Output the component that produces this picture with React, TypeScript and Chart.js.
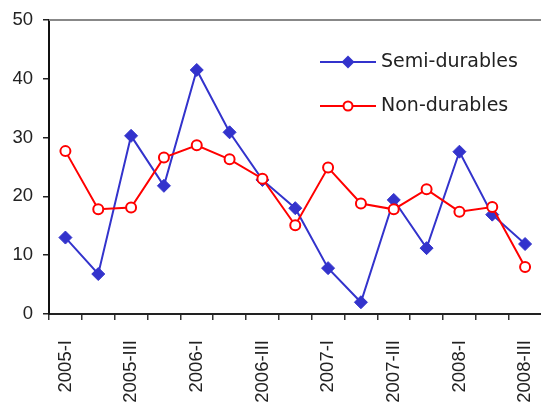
import React, { useEffect, useRef } from "react";
import { Chart, registerables } from "chart.js";

Chart.register(...registerables);

const categories = [
  "2005-I", "2005-II", "2005-III", "2005-IV",
  "2006-I", "2006-II", "2006-III", "2006-IV",
  "2007-I", "2007-II", "2007-III", "2007-IV",
  "2008-I", "2008-II", "2008-III",
];
const semiDurables = [13, 6.8, 30.3, 21.8, 41.5, 30.9, 22.8, 18.0, 7.8, 2.0, 19.4, 11.2, 27.6, 16.9, 11.9];
const nonDurables = [27.7, 17.8, 18.1, 26.6, 28.7, 26.3, 23.0, 15.1, 24.9, 18.8, 17.8, 21.2, 17.4, 18.2, 8.0];
const yTicks = [0, 10, 20, 30, 40, 50];

const BLUE = "#3333CC";
const RED = "#FF0000";
const TEXT = "#222222";

const frameAndLegend = {
  id: "frameAndLegend",
  afterDraw(chart: any) {
    const { ctx, chartArea } = chart;
    ctx.save();
    // top frame line
    ctx.strokeStyle = "#888888";
    ctx.lineWidth = 2;
    ctx.beginPath();
    ctx.moveTo(chartArea.left, chartArea.top);
    ctx.lineTo(chart.width, chartArea.top);
    ctx.stroke();

    // legend
    const items = [
      { ds: chart.data.datasets[0], y: 62, shape: "diamond" },
      { ds: chart.data.datasets[1], y: 106, shape: "circle" },
    ];
    const x0 = 320, x1 = 376, xm = 348, xt = 381;
    for (const it of items) {
      ctx.strokeStyle = it.ds.borderColor;
      ctx.lineWidth = 2;
      ctx.beginPath();
      ctx.moveTo(x0, it.y);
      ctx.lineTo(x1, it.y);
      ctx.stroke();
      if (it.shape === "diamond") {
        ctx.fillStyle = it.ds.borderColor;
        ctx.beginPath();
        ctx.moveTo(xm, it.y - 6.5);
        ctx.lineTo(xm + 6.5, it.y);
        ctx.lineTo(xm, it.y + 6.5);
        ctx.lineTo(xm - 6.5, it.y);
        ctx.closePath();
        ctx.fill();
      } else {
        ctx.fillStyle = "#ffffff";
        ctx.beginPath();
        ctx.arc(xm, it.y, 4.5, 0, Math.PI * 2);
        ctx.fill();
        ctx.stroke();
      }
      ctx.fillStyle = TEXT;
      ctx.font = "19px 'DejaVu Sans'";
      ctx.textBaseline = "middle";
      ctx.textAlign = "left";
      ctx.fillText(it.ds.label, xt, it.y);
    }
    ctx.restore();
  },
};

export default function App() {
  const ref = useRef<HTMLCanvasElement | null>(null);
  useEffect(() => {
    if (!ref.current) return;
    const chart = new Chart(ref.current, {
      type: "line",
      data: {
        labels: categories,
        datasets: [
          {
            label: "Semi-durables",
            data: semiDurables,
            borderColor: BLUE,
            backgroundColor: BLUE,
            borderWidth: 2,
            pointStyle: "rectRot",
            pointRadius: 6.5,
            pointBackgroundColor: BLUE,
            pointBorderColor: BLUE,
            pointBorderWidth: 1,
            order: 1,
          },
          {
            label: "Non-durables",
            data: nonDurables,
            borderColor: RED,
            backgroundColor: RED,
            borderWidth: 2,
            pointStyle: "circle",
            pointRadius: 5,
            pointBackgroundColor: "#ffffff",
            pointBorderColor: RED,
            pointBorderWidth: 2,
            order: 0,
          },
        ],
      },
      plugins: [frameAndLegend],
      options: {
        animation: false,
        responsive: true,
        maintainAspectRatio: false,
        layout: { padding: { top: 20, right: 0, left: 0, bottom: 0 } },
        plugins: { legend: { display: false }, tooltip: { enabled: false } },
        scales: {
          x: {
            type: "category",
            offset: true,
            grid: {
              display: true,
              offset: true,
              drawOnChartArea: false,
              drawTicks: true,
              tickLength: 6,
              color: "#333333",
              lineWidth: 1.5,
            },
            border: { display: true, color: "#222222", width: 2 },
            ticks: {
              autoSkip: false,
              maxRotation: 90,
              minRotation: 90,
              padding: 20,
              color: TEXT,
              font: { family: "'Liberation Sans'", size: 18.5 },
              callback: (_v: any, i: number) => (i % 2 === 0 ? categories[i] : ""),
            },
            afterFit: (scale: any) => {
              scale.height = 89;
              scale.paddingRight = 0;
              scale.paddingLeft = 0;
            },
          },
          y: {
            min: 0,
            max: 50,
            afterBuildTicks: (scale: any) => {
              scale.ticks = yTicks.map((v) => ({ value: v }));
            },
            grid: {
              display: true,
              drawOnChartArea: false,
              drawTicks: true,
              tickLength: 6,
              color: "#222222",
              lineWidth: 1.5,
            },
            border: { display: true, color: "#111111", width: 2 },
            ticks: {
              padding: 10,
              color: TEXT,
              font: { family: "'Liberation Sans'", size: 18.5 },
            },
            afterFit: (scale: any) => {
              scale.width = 49;
              scale.paddingTop = 0;
              scale.paddingBottom = 0;
            },
          },
        },
      },
    });
    return () => chart.destroy();
  }, []);
  return (
    <div style={{ position: "fixed", left: 0, top: 0, width: 549, height: 403, background: "#fff" }}>
      <canvas ref={ref} />
    </div>
  );
}
